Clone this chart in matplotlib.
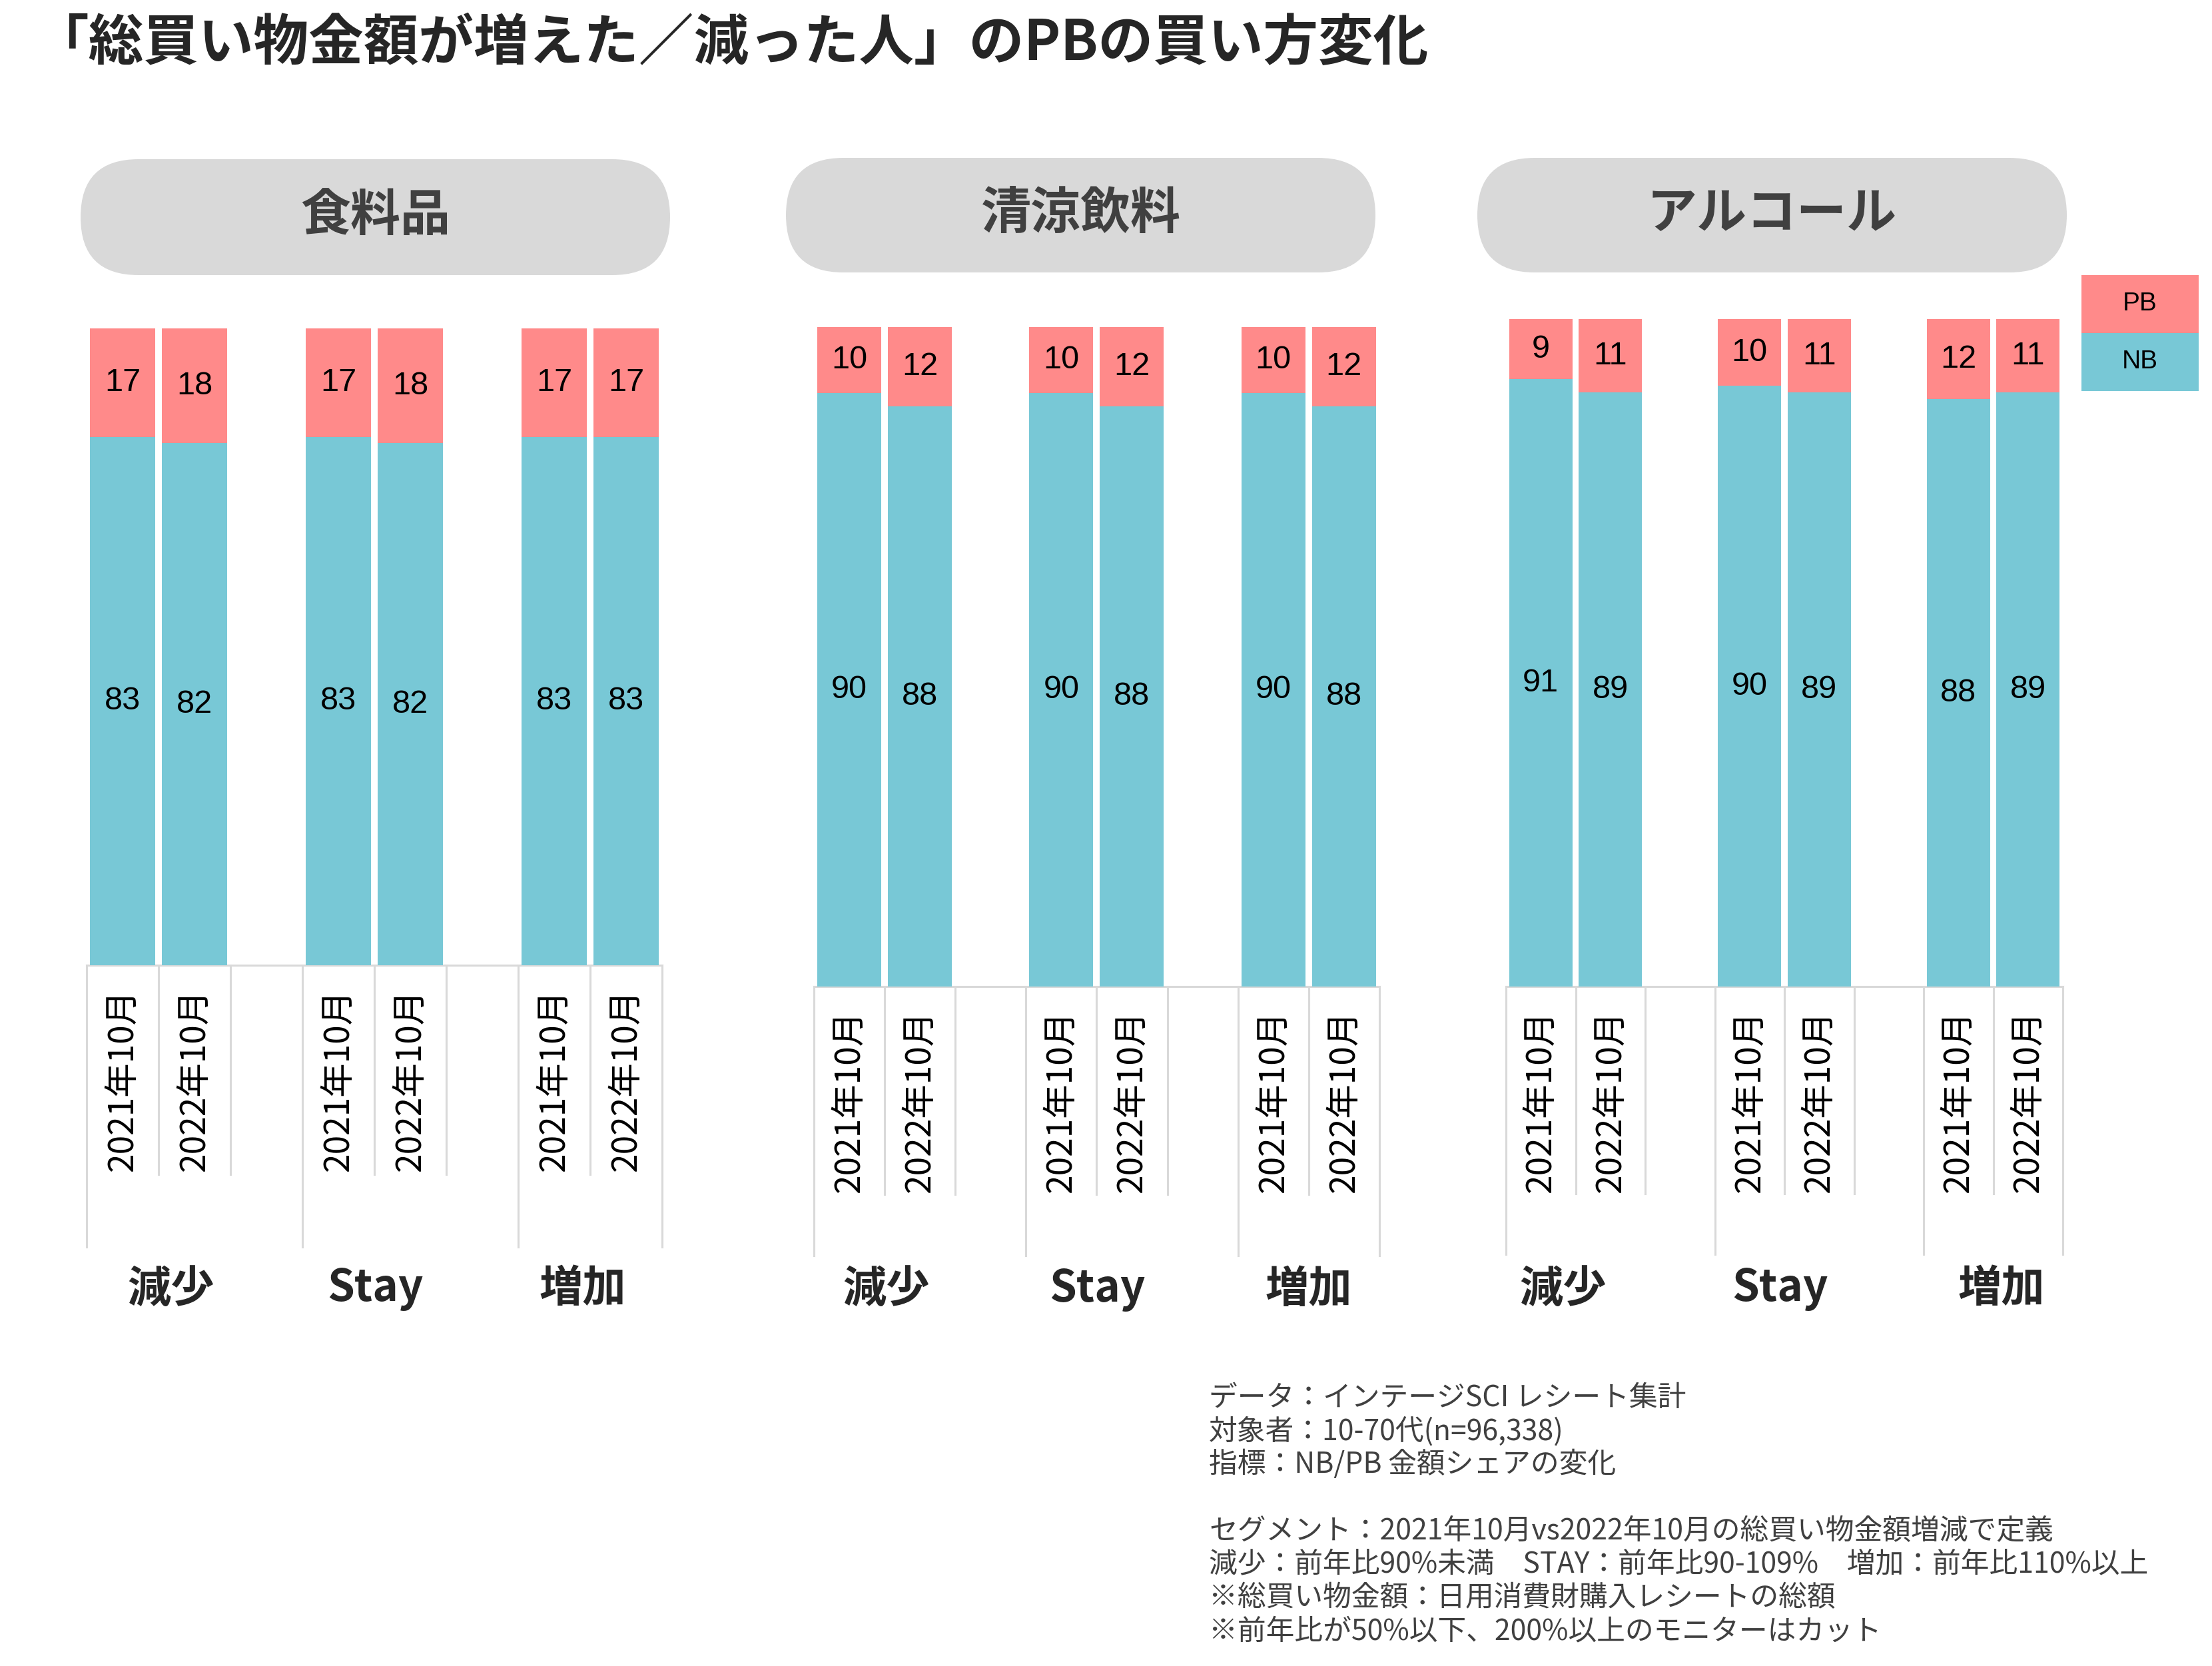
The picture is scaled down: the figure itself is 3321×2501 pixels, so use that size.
import matplotlib
matplotlib.use("Agg")
import matplotlib.pyplot as plt
from matplotlib.patches import FancyBboxPatch, Rectangle

plt.rcParams['font.family'] = ['Noto Sans CJK JP', 'DejaVu Sans']

# ---- data ----
title = "「総買い物金額が増えた／減った人」のPBの買い方変化"
panels = ["食料品", "清涼飲料", "アルコール"]
groups = ["減少", "Stay", "増加"]
periods = ["2021年10月", "2022年10月"]

food_pb = [17, 18, 17, 18, 17, 17]
food_nb = [83, 82, 83, 82, 83, 83]
drink_pb = [10, 12, 10, 12, 10, 12]
drink_nb = [90, 88, 90, 88, 90, 88]
alc_pb = [9, 11, 10, 11, 12, 11]
alc_nb = [91, 89, 90, 89, 88, 89]

series_pb = [food_pb, drink_pb, alc_pb]
series_nb = [food_nb, drink_nb, alc_nb]

notes = [
    "データ：インテージSCI レシート集計",
    "対象者：10-70代(n=96,338)",
    "指標：NB/PB 金額シェアの変化",
    "",
    "セグメント：2021年10月vs2022年10月の総買い物金額増減で定義",
    "減少：前年比90%未満　STAY：前年比90-109%　増加：前年比110%以上",
    "※総買い物金額：日用消費財購入レシートの総額",
    "※前年比が50%以下、200%以上のモニターはカット",
]

PB_COL = "#FF8A8A"
NB_COL = "#78C8D6"
LINE_COL = "#D9D9D9"

W, H = 3321, 2501
fig = plt.figure(figsize=(W / 100, H / 100), dpi=100)

# overlay in pixel coordinates for decorations
ov = fig.add_axes([0, 0, 1, 1])
ov.set_xlim(0, W)
ov.set_ylim(H, 0)
ov.axis('off')

ov.text(50, 66, title, fontsize=59.5, fontweight='bold', color='#262626',
        ha='left', va='center')

# layout of each panel in pixels: left edge, slot width, baseline, top, short/long line ends, pill box
layout = [
    dict(x0=130, slot=108.0, base=1449, top=493, short=1763, long=1872,
         pill=(121, 239, 885, 174), gpos=[1.17, 4.01, 6.9]),
    dict(x0=1222, slot=106.1, base=1481, top=491, short=1793, long=1885,
         pill=(1180, 237, 885, 172), gpos=[1.02, 4.01, 7.0]),
    dict(x0=2261, slot=104.5, base=1481, top=479, short=1792, long=1883,
         pill=(2218, 237, 885, 172), gpos=[0.82, 3.94, 7.12]),
]
bar_pos = [0.5, 1.5, 3.5, 4.5, 6.5, 7.5]

for p, name in enumerate(panels):
    L = layout[p]
    px, py, pw, ph = L['pill']
    ov.add_patch(FancyBboxPatch((px, py), pw, ph,
                                boxstyle="round,pad=0,rounding_size=%f" % (ph / 2),
                                fc="#D9D9D9", ec='none'))
    ov.text(px + pw / 2, py + ph / 2 - 2, name, fontsize=54, fontweight='bold',
            color='#404040', ha='center', va='center')

    span = 8 * L['slot']
    ax = fig.add_axes([L['x0'] / W, 1 - L['base'] / H, span / W, (L['base'] - L['top']) / H])
    ax.set_xlim(0, 8)
    ax.set_ylim(0, 100)
    ax.axis('off')

    def py2y(pix, L=L):
        return (L['base'] - pix) / (L['base'] - L['top']) * 100

    nb = series_nb[p]
    pb = series_pb[p]
    bw = 0.905
    ax.bar(bar_pos, nb, width=bw, color=NB_COL, zorder=2)
    ax.bar(bar_pos, pb, width=bw, bottom=nb, color=PB_COL, zorder=2)
    for x, n, b in zip(bar_pos, nb, pb):
        ax.text(x, n / 2, f"{n:.0f}", fontsize=35, family='Liberation Sans',
                ha='center', va='center', color='black')
        ax.text(x, n + b / 2, f"{b:.0f}", fontsize=35, family='Liberation Sans',
                ha='center', va='center', color='black')

    # category axis
    ax.plot([0, 8], [0, 0], color=LINE_COL, lw=2.2, clip_on=False, zorder=1)
    for k in range(9):
        end = L['long'] if k in (0, 3, 6, 8) else L['short']
        ax.plot([k, k], [0, py2y(end)], color=LINE_COL, lw=2.2, clip_on=False, zorder=1)
    for i, x in enumerate(bar_pos):
        ax.text(x, py2y(L['base'] + 35), periods[i % 2], rotation=90, fontsize=37,
                ha='center', va='top', color='black', clip_on=False)
    for g, gx in zip(groups, L['gpos']):
        ax.text(gx, py2y(1935), g, fontsize=47, fontweight='bold', color='#262626',
                ha='center', va='center', clip_on=False)

# legend
for j, (lab, col) in enumerate([("PB", PB_COL), ("NB", NB_COL)]):
    y0 = 413 + j * 87
    ov.add_patch(Rectangle((3125, y0), 176, 87, fc=col, ec='none'))
    ov.text(3213, y0 + 43, lab, fontsize=28, family='Liberation Sans',
            ha='center', va='center', color='black')

# notes
for i, line in enumerate(notes):
    if line:
        ov.text(1815, 2099 + i * 50, line, fontsize=30.8, color='#404040',
                ha='left', va='center')

fig.savefig("out.png", dpi=100)
